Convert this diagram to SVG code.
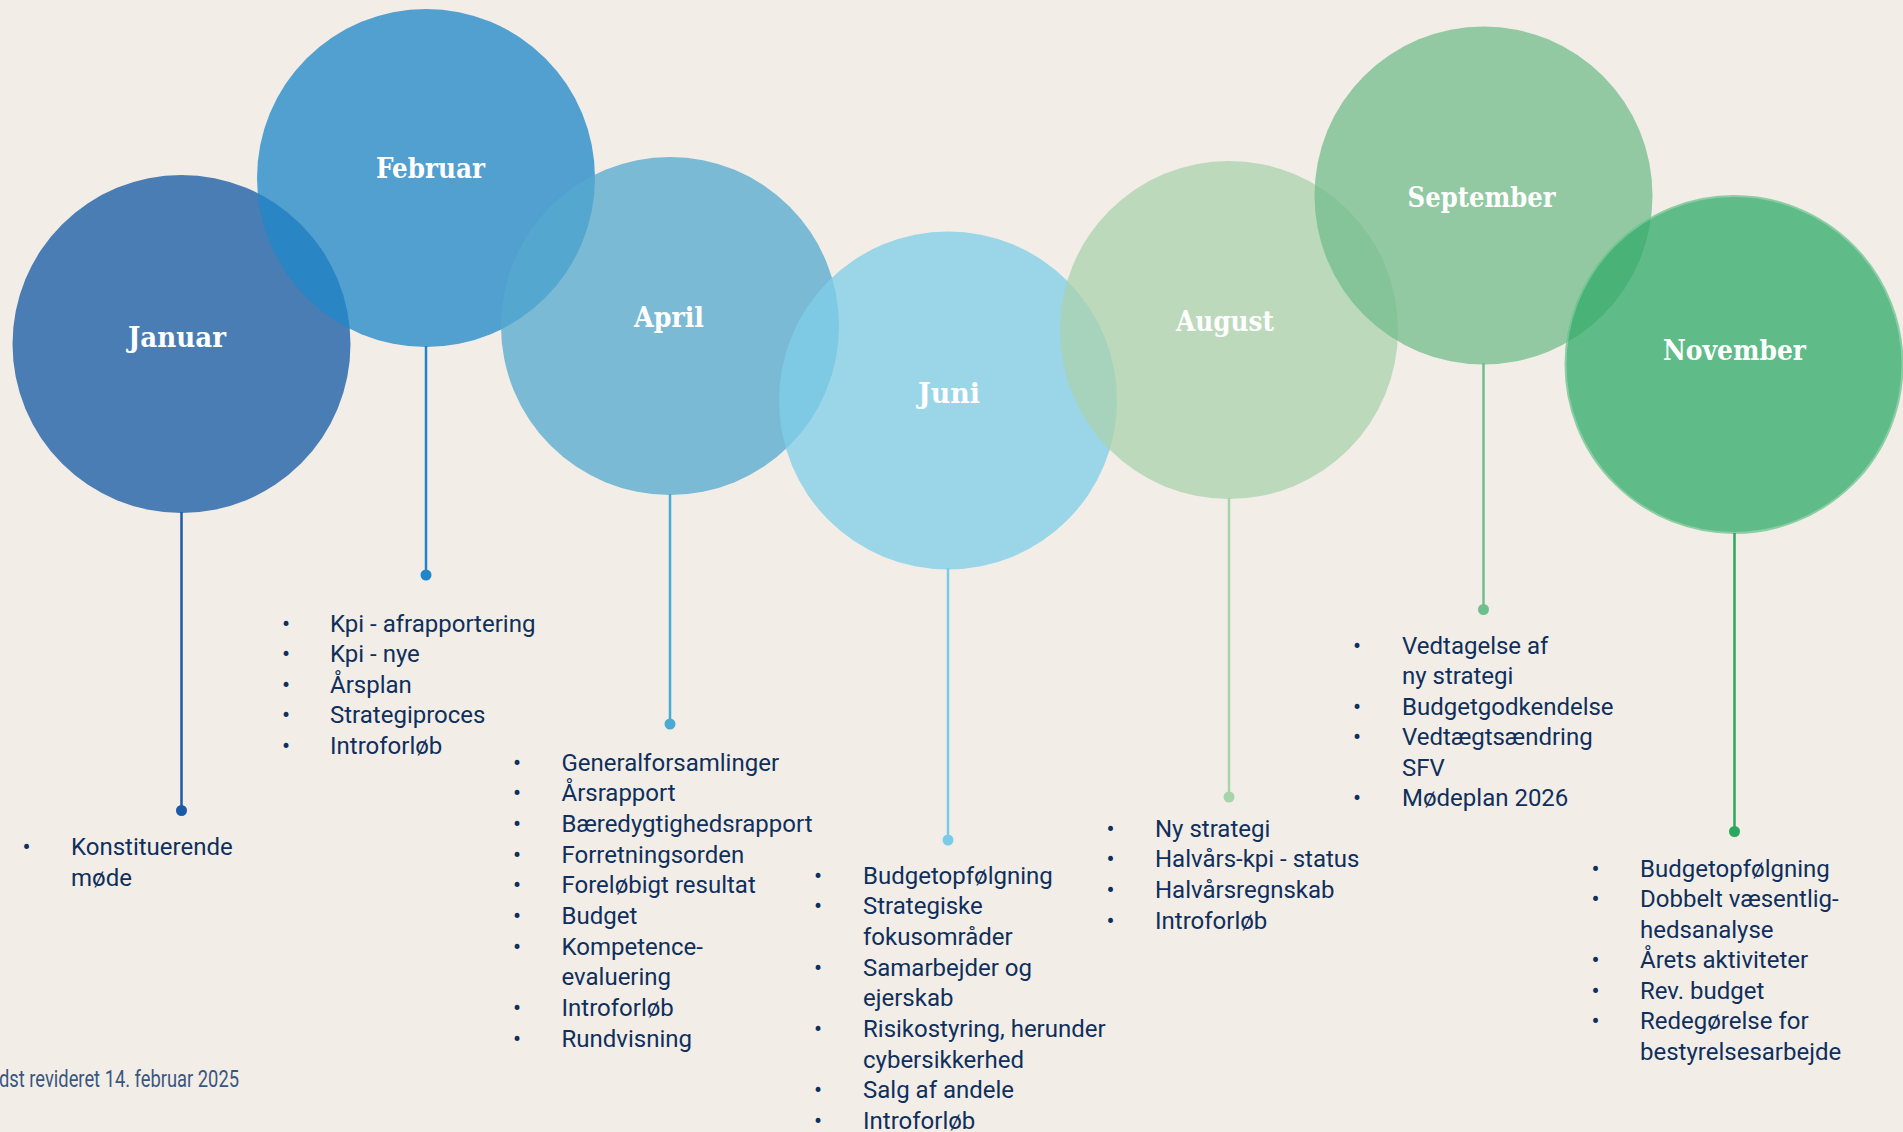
<svg xmlns="http://www.w3.org/2000/svg" width="1903" height="1132" viewBox="0 0 1903 1132">
<style>
.bg{fill:#f2eee7}
.c{opacity:0.76}
.lbl{font-family:"DejaVu Serif","Liberation Serif",serif;font-weight:bold;font-stretch:condensed;font-size:28px;fill:#ffffff;text-anchor:middle}
.it{font-family:Roboto,"Liberation Sans",sans-serif;font-size:24px;fill:#0f2f5c}
.bu{font-family:Roboto,"Liberation Sans",sans-serif;font-size:24px;fill:#0f2f5c;text-anchor:middle}
.foot{font-family:Roboto,"Liberation Sans",sans-serif;font-weight:400;font-size:23px;fill:#3a5680}
.stem{stroke-width:2.5;fill:none}
</style>
<rect class="bg" x="0" y="0" width="1903" height="1132"/>

<g id="node-januar">
<circle class="c" cx="181.5" cy="344" r="169" fill="#1559a3"/>
<text class="lbl" x="177" y="347" textLength="98" lengthAdjust="spacingAndGlyphs">Januar</text>
<text class="bu" x="26.5" y="854.5">•</text>
<text class="it" x="71" y="854.5">Konstituerende</text>
<text class="it" x="71" y="886">møde</text>
</g>

<g id="node-februar">
<circle class="c" cx="426" cy="178" r="169" fill="#2087c9"/>
<text class="lbl" x="430.5" y="178" textLength="109" lengthAdjust="spacingAndGlyphs">Februar</text>
<text class="bu" x="286" y="631.5">•</text><text class="it" x="330" y="631.5">Kpi - afrapportering</text>
<text class="bu" x="286" y="662">•</text><text class="it" x="330" y="662">Kpi - nye</text>
<text class="bu" x="286" y="692.5">•</text><text class="it" x="330" y="692.5">Årsplan</text>
<text class="bu" x="286" y="723">•</text><text class="it" x="330" y="723">Strategiproces</text>
<text class="bu" x="286" y="753.5">•</text><text class="it" x="330" y="753.5">Introforløb</text>
</g>

<g id="node-april">
<circle class="c" cx="670" cy="326" r="169" fill="#56aacf"/>
<text class="lbl" x="669" y="327" textLength="70" lengthAdjust="spacingAndGlyphs">April</text>
<text class="bu" x="517" y="770.5">•</text><text class="it" x="561.5" y="770.5">Generalforsamlinger</text>
<text class="bu" x="517" y="801.2">•</text><text class="it" x="561.5" y="801.2">Årsrapport</text>
<text class="bu" x="517" y="831.9">•</text><text class="it" x="561.5" y="831.9">Bæredygtighedsrapport</text>
<text class="bu" x="517" y="862.6">•</text><text class="it" x="561.5" y="862.6">Forretningsorden</text>
<text class="bu" x="517" y="893.3">•</text><text class="it" x="561.5" y="893.3">Foreløbigt resultat</text>
<text class="bu" x="517" y="924">•</text><text class="it" x="561.5" y="924">Budget</text>
<text class="bu" x="517" y="954.7">•</text><text class="it" x="561.5" y="954.7">Kompetence-</text>
<text class="it" x="561.5" y="985.4">evaluering</text>
<text class="bu" x="517" y="1016">•</text><text class="it" x="561.5" y="1016">Introforløb</text>
<text class="bu" x="517" y="1046.7">•</text><text class="it" x="561.5" y="1046.7">Rundvisning</text>
</g>

<g id="node-juni">
<circle class="c" cx="948" cy="400.5" r="169" fill="#80cde8"/>
<text class="lbl" x="949" y="403" textLength="62" lengthAdjust="spacingAndGlyphs">Juni</text>
<text class="bu" x="818" y="883.5">•</text><text class="it" x="863" y="883.5">Budgetopfølgning</text>
<text class="bu" x="818" y="914.2">•</text><text class="it" x="863" y="914.2">Strategiske</text>
<text class="it" x="863" y="944.9">fokusområder</text>
<text class="bu" x="818" y="975.6">•</text><text class="it" x="863" y="975.6">Samarbejder og</text>
<text class="it" x="863" y="1006.3">ejerskab</text>
<text class="bu" x="818" y="1037">•</text><text class="it" x="863" y="1037">Risikostyring, herunder</text>
<text class="it" x="863" y="1067.7">cybersikkerhed</text>
<text class="bu" x="818" y="1098.4">•</text><text class="it" x="863" y="1098.4">Salg af andele</text>
<text class="bu" x="818" y="1129">•</text><text class="it" x="863" y="1129">Introforløb</text>
</g>

<g id="node-august">
<circle class="c" cx="1229" cy="330" r="169" fill="#abd2ae"/>
<text class="lbl" x="1225" y="330.5" textLength="98" lengthAdjust="spacingAndGlyphs">August</text>
<text class="bu" x="1110.5" y="836.5">•</text><text class="it" x="1155" y="836.5">Ny strategi</text>
<text class="bu" x="1110.5" y="867.2">•</text><text class="it" x="1155" y="867.2">Halvårs-kpi - status</text>
<text class="bu" x="1110.5" y="897.9">•</text><text class="it" x="1155" y="897.9">Halvårsregnskab</text>
<text class="bu" x="1110.5" y="928.6">•</text><text class="it" x="1155" y="928.6">Introforløb</text>
</g>

<g id="node-september">
<circle class="c" cx="1483.5" cy="195.5" r="169" fill="#74bd8c"/>
<text class="lbl" x="1481.6" y="207" textLength="148" lengthAdjust="spacingAndGlyphs">September</text>
<text class="bu" x="1357" y="653.5">•</text><text class="it" x="1402" y="653.5">Vedtagelse af</text>
<text class="it" x="1402" y="684">ny strategi</text>
<text class="bu" x="1357" y="714.7">•</text><text class="it" x="1402" y="714.7">Budgetgodkendelse</text>
<text class="bu" x="1357" y="745.3">•</text><text class="it" x="1402" y="745.3">Vedtægtsændring</text>
<text class="it" x="1402" y="775.6">SFV</text>
<text class="bu" x="1357" y="806">•</text><text class="it" x="1402" y="806">Mødeplan 2026</text>
</g>

<g id="node-november">
<circle class="c" cx="1734" cy="364.5" r="168.5" fill="#32ac6a" stroke="#6cc490" stroke-width="2"/>
<text class="lbl" x="1734.5" y="360" textLength="143" lengthAdjust="spacingAndGlyphs">November</text>
<text class="bu" x="1595.5" y="876.5">•</text><text class="it" x="1640" y="876.5">Budgetopfølgning</text>
<text class="bu" x="1595.5" y="907">•</text><text class="it" x="1640" y="907">Dobbelt væsentlig-</text>
<text class="it" x="1640" y="937.5">hedsanalyse</text>
<text class="bu" x="1595.5" y="968">•</text><text class="it" x="1640" y="968">Årets aktiviteter</text>
<text class="bu" x="1595.5" y="998.7">•</text><text class="it" x="1640" y="998.7">Rev. budget</text>
<text class="bu" x="1595.5" y="1029.3">•</text><text class="it" x="1640" y="1029.3">Redegørelse for</text>
<text class="it" x="1640" y="1060">bestyrelsesarbejde</text>
</g>

<g id="connectors">
<line class="stem" x1="181.5" y1="512" x2="181.5" y2="810" stroke="#1a5aa6"/>
<circle cx="181.5" cy="810.5" r="5.5" fill="#1a5aa6"/>
<line class="stem" x1="426" y1="346" x2="426" y2="575" stroke="#1f86c9"/>
<circle cx="426" cy="575" r="5.5" fill="#1f86c9"/>
<line class="stem" x1="670" y1="494" x2="670" y2="724" stroke="#4aaad2"/>
<circle cx="670" cy="724" r="5.5" fill="#4aaad2"/>
<line class="stem" x1="948" y1="568" x2="948" y2="840" stroke="#7acbe8"/>
<circle cx="948" cy="840" r="5.5" fill="#7acbe8"/>
<line class="stem" x1="1229" y1="498" x2="1229" y2="797" stroke="#a8d4a9"/>
<circle cx="1229" cy="797" r="5.5" fill="#a8d4a9"/>
<line class="stem" x1="1483.5" y1="363" x2="1483.5" y2="609.5" stroke="#6fbf8c"/>
<circle cx="1483.5" cy="609.5" r="5.5" fill="#6fbf8c"/>
<line class="stem" x1="1734.5" y1="533" x2="1734.5" y2="831.5" stroke="#2aa85e"/>
<circle cx="1734.5" cy="831.5" r="5.5" fill="#2aa85e"/>
</g>

<text class="foot" x="-1" y="1087" textLength="240" lengthAdjust="spacingAndGlyphs">dst revideret 14. februar 2025</text>
</svg>
